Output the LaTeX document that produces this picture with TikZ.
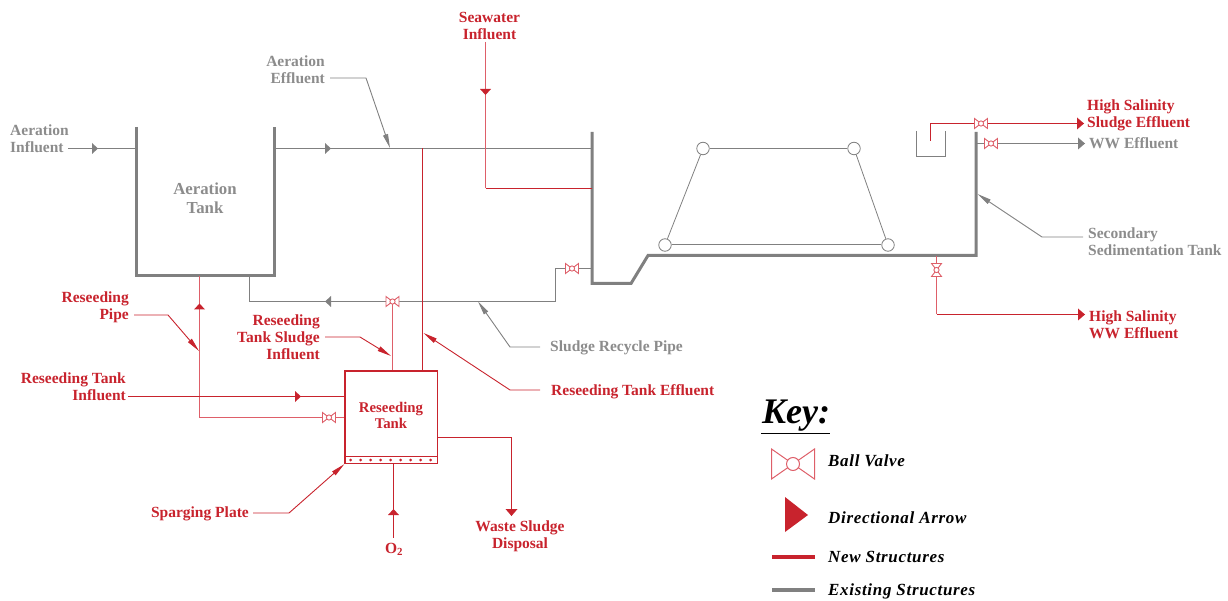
\documentclass[tikz,border=0pt]{standalone}
\usepackage{fontspec}
\setmainfont{Liberation Serif}
\usetikzlibrary{arrows.meta}
\definecolor{rd}{RGB}{200,35,45}
\definecolor{rdl}{RGB}{222,95,105}
\definecolor{gy}{RGB}{128,128,128}
\definecolor{gyt}{RGB}{140,140,140}
\tikzset{
  lbl/.style={inner sep=0pt,font=\fontsize{15.5}{17}\selectfont\bfseries},
  lblr/.style={lbl,text=rd},
  lblg/.style={lbl,text=gyt},
  keyt/.style={inner sep=0pt,anchor=west,text=black,font=\fontsize{17}{17}\selectfont\bfseries\itshape\addfontfeatures{LetterSpace=4}},
  wall/.style={draw=gy,line width=3pt,miter limit=10},
  pipeg/.style={draw=gy,line width=1pt},
  piper/.style={draw=rd,line width=1pt},
  piperl/.style={draw=rdl,line width=1.1pt},
  leadg/.style={draw=gy,line width=.9pt,-{Triangle[length=14pt,width=5pt,fill=gy]}},
  leadr/.style={draw=rd,line width=.9pt,-{Triangle[length=14pt,width=5pt,fill=rd]}},
  joint/.style={circle,draw=gy,fill=white,line width=.8pt,minimum size=12.5pt,inner sep=0pt},
  thintank/.style={draw=rd,line width=1.3pt,minimum width=92.5pt,minimum height=92.5pt,inner sep=0pt},
  pics/flow/.style={code={\fill[#1] (-2.5,-5.5) -- (3.5,0) -- (-2.5,5.5) -- cycle;}},
  pics/endtip/.style={code={\fill[#1] (-7,-6) -- (0,0) -- (-7,6) -- cycle;}},
  pics/ballvalve/.style={code={
    \filldraw[draw=rdl,fill=white,line width=.9pt] (-6.5,-5) -- (6.5,5) -- (6.5,-5) -- (-6.5,5) -- cycle;
    \filldraw[draw=rdl,fill=white,line width=.9pt] (0,0) circle (2.6);}},
  pics/bigvalve/.style={code={
    \draw[draw=rdl,line width=1pt] (-21.5,-15) -- (21.5,15) -- (21.5,-15) -- (-21.5,15) -- cycle;
    \filldraw[draw=rdl,fill=white,line width=1pt] (0,0) circle (6.5);}},
}
\begin{document}
\begin{tikzpicture}[x=1pt,y=-1pt]
\useasboundingbox (0,0) rectangle (1228,601);

% junctions and bends
\coordinate (ain) at (68,148.5);
\coordinate (atL) at (136,148.5);
\coordinate (atR) at (274.5,148.5);
\coordinate (stL) at (592,148.5);
\coordinate (effJ) at (390,148);
\coordinate (rsT) at (422.5,148.5);
\coordinate (swTop) at (485.5,42);
\coordinate (swB) at (485.5,188.5);
\coordinate (swE) at (592,188.5);
\coordinate (recA) at (592,268.5);
\coordinate (recB) at (555.5,268.5);
\coordinate (recC) at (555.5,301.5);
\coordinate (recD) at (249.5,301.5);
\coordinate (recE) at (249.5,276);
\coordinate (vRec) at (572,268.5);
\coordinate (vSl) at (392.5,301.5);
\coordinate (pipeT) at (199.5,276);
\coordinate (pipeB) at (199.5,417.5);
\coordinate (vPipe) at (329,417.5);
\coordinate (wsA) at (511.5,437.5);
\coordinate (wsB) at (511.5,516);
\coordinate (o2b) at (393.5,538);
\coordinate (hsA) at (930.5,141);
\coordinate (hsB) at (930.5,123.5);
\coordinate (hsE) at (1084,123.5);
\coordinate (vHs) at (981,123.5);
\coordinate (wwA) at (976,143.5);
\coordinate (wwE) at (1085,143.5);
\coordinate (vWw) at (991,143.5);
\coordinate (hwA) at (936.5,256);
\coordinate (hwB) at (936.5,314.5);
\coordinate (hwE) at (1085,314.5);
\coordinate (vHw) at (936.5,270);
\coordinate (riS) at (128,396.5);

% tanks
\draw[wall] (136,127) -- (136,275.5) -- (274.5,275.5) -- (274.5,127);
\draw[wall] (592,132) -- (592,283.5) -- (631,283.5) -- (648,255.5) -- (976,255.5) -- (976,132);
\draw[draw=gy,line width=1pt] (916.5,131) -- (916.5,156.5) -- (945.5,156.5) -- (945.5,131);

\node[thintank] (rt) at (391.25,417.25) {};
\draw[piper] (345,456.5) -- (437.5,456.5);
\foreach \i in {350.5,360.5,...,431} \fill[rd] (\i,460) circle (1.5);

% clarifier scraper
\node[joint] (j1) at (703,148.5) {};
\node[joint] (j2) at (854,148.5) {};
\node[joint] (j3) at (665,245) {};
\node[joint] (j4) at (888,245) {};
\draw[pipeg] (j1) -- (j2);
\draw[pipeg] (j3) -- (j4);
\draw[pipeg,line width=.8pt] (j1) -- (j3);
\draw[pipeg,line width=.8pt] (j2) -- (j4);

% labels
\node[lblg,align=left,anchor=west] (lAI) at (10,138.5) {Aeration\\Influent};
\node[lblg,align=center,font=\fontsize{16.8}{19}\selectfont\bfseries] (lAT) at (205,198.5) {Aeration\\Tank};
\node[lblg,align=right,anchor=east] (lAE) at (325,69.5) {Aeration\\Effluent};
\node[lblr,align=center] (lSW) at (489.5,25.5) {Seawater\\Influent};
\node[lblg,anchor=west] (lSR) at (550,347.5) {Sludge Recycle Pipe};
\node[lblr,align=right,anchor=east] (lRP) at (129,307) {Reseeding\\Pipe};
\node[lblr,align=right,anchor=east] (lRS) at (320,337) {Reseeding\\Tank Sludge\\Influent};
\node[lblr,align=right,anchor=east] (lRI) at (126,386.5) {Reseeding Tank\\Influent};
\node[lblr,align=center,font=\fontsize{14.8}{16}\selectfont\bfseries] (lRT) at (391,415) {Reseeding\\Tank};
\node[lblr,anchor=west] (lRE) at (551,391.5) {Reseeding Tank Effluent};
\node[lblr,anchor=east] (lSP) at (249,513.5) {Sparging Plate};
\node[lblr] (lO2) at (394,549) {O\textsubscript{2}};
\node[lblr,align=center] (lWS) at (520,536) {Waste Sludge\\Disposal};
\node[lblr,align=left,anchor=west] (lHS) at (1087,115) {High Salinity\\Sludge Effluent};
\node[lblg,anchor=west] (lWW) at (1089,143.5) {WW Effluent};
\node[lblr,align=left,anchor=west] (lHW) at (1089,324.5) {High Salinity\\WW Effluent};
\node[lblg,align=left,anchor=west] (lSS) at (1088,241.5) {Secondary\\Sedimentation Tank};

% existing pipes
\draw[pipeg] (ain) -- (atL);
\draw[pipeg] (atR) -- (stL);
\draw[pipeg] (recA) -- (recB) -- (recC) -- (recD) -- (recE);
\draw[pipeg] (wwA) -- (wwE);

% new pipes
\draw[piper] (rsT) -- (rsT |- rt.north);
\draw[piperl] (swTop) -- (swB);
\draw[piper] (swB) -- (swE);
\draw[piperl] (vSl) -- (vSl |- rt.north);
\draw[piperl] (pipeT) -- (pipeB) -- (vPipe) -- (rt.west |- vPipe);
\draw[piper] (riS) -- (rt.west |- riS);
\draw[piper] (rt.east |- wsA) -- (wsA) -- (wsB);
\draw[piper] (rt.south -| o2b) -- (o2b);
\draw[piper] (hsA) -- (hsB) -- (hsE);
\draw[piperl] (hwA) -- (hwB);
\draw[piper] (hwB) -- (hwE);

% leaders
\coordinate (aeS) at (330,78);  \coordinate (aeK) at (366,78);
\draw[leadg] (aeS) -- (aeK) -- (effJ);
\coordinate (srS) at (540,347); \coordinate (srK) at (510,347); \coordinate (srT) at (478,301.5);
\draw[leadg] (srS) -- (srK) -- (srT);
\coordinate (ssS) at (1083,237); \coordinate (ssK) at (1042,237); \coordinate (ssT) at (977.5,194);
\draw[leadg] (ssS) -- (ssK) -- (ssT);
\coordinate (rpS) at (134,315); \coordinate (rpK) at (168,315); \coordinate (rpT) at (199,351);
\draw[leadr] (rpS) -- (rpK) -- (rpT);
\coordinate (rsS) at (325,337); \coordinate (rsK) at (360,337); \coordinate (rsE) at (391,356);
\draw[leadr] (rsS) -- (rsK) -- (rsE);
\coordinate (reS) at (540,390); \coordinate (reK) at (510,390); \coordinate (reT) at (423.5,333);
\draw[leadr] (reS) -- (reK) -- (reT);
\coordinate (spS) at (253,513); \coordinate (spK) at (289,513);
\draw[leadr] (spS) -- (spK) -- (rt.south west);

% flow arrows (y axis points down, so a positive rotation turns upward)
\pic at (94.5,148.5) {flow=gy};
\pic at (327.5,148.5) {flow=gy};
\pic[rotate=180] at (328.5,301.5) {flow=gy};
\pic[rotate=-90] at (485.5,91.5) {flow=rd};
\pic[rotate=90] at (199.5,307) {flow=rd};
\pic at (297.5,396.5) {flow=rd};
\pic[rotate=90] at (393.5,512.5) {flow=rd};
\pic[rotate=-90] at (wsB) {endtip=rd};
\pic at (hsE) {endtip=rd};
\pic at (wwE) {endtip=gy};
\pic at (hwE) {endtip=rd};

% valves
\pic at (vRec) {ballvalve};
\pic at (vSl) {ballvalve};
\pic at (vPipe) {ballvalve};
\pic at (vHs) {ballvalve};
\pic at (vWw) {ballvalve};
\pic[rotate=90] at (vHw) {ballvalve};

% key
\node[inner sep=0pt,anchor=west,font=\fontsize{36}{40}\selectfont\bfseries\itshape] (kT) at (762,416) {Key:};
\coordinate (kUa) at (761,433); \coordinate (kUb) at (830,433);
\draw[line width=.9pt,black] (kUa) -- (kUb);
\coordinate (kV) at (793,464);
\pic at (kV) {bigvalve};
\node[keyt] (k1) at (828,461) {Ball Valve};
\fill[rd] (785,497) -- (808,515) -- (785,532) -- cycle;
\node[keyt] (k2) at (828,518) {Directional Arrow};
\coordinate (kNa) at (772,557); \coordinate (kNb) at (815,557);
\draw[rd,line width=4pt] (kNa) -- (kNb);
\node[keyt] (k3) at (828,557) {New Structures};
\coordinate (kEa) at (772,590); \coordinate (kEb) at (815,590);
\draw[gy,line width=4pt] (kEa) -- (kEb);
\node[keyt] (k4) at (828,591.5) {Existing Structures};
\end{tikzpicture}
\end{document}
